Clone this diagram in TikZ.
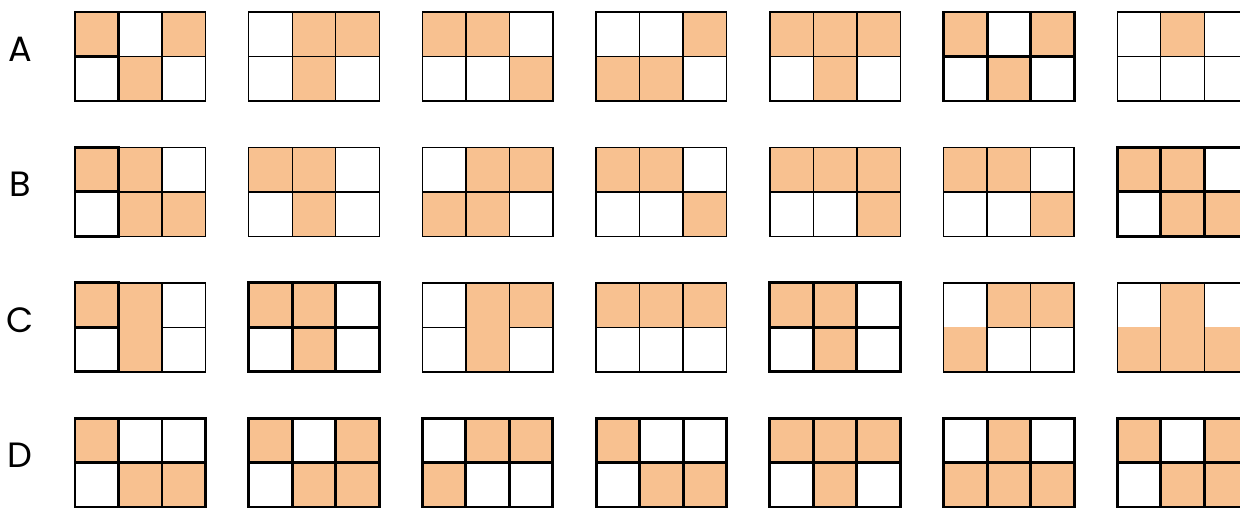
\documentclass[tikz,border=0pt]{standalone}
\usepackage{fontspec}
\setmainfont{Poppins}
\definecolor{tileOrange}{RGB}{248, 193, 144}

\begin{document}
\begin{tikzpicture}[
  x=0.02cm, y=-0.02cm,
  rowlabel/.style={font=\fontsize{20}{24}\selectfont, anchor=center, inner sep=0pt},
  tilefill/.style={fill=tileOrange},
  tilethin/.style={draw=black, line width=0.8pt},
  tilethick/.style={draw=black, line width=1.7pt}
]
  \useasboundingbox (0,0) rectangle (1240,507);

  % ── Lettres des rangées ───────────────────────────────────────
  \foreach \L/\Y in {A/49, B/184, C/320, D/455}
    \node[rowlabel] (lab\L) at (20,\Y) {\L};

  % ── Grilles 2 × 3 (colonne / rangée / cases pleines / traits du milieu / trait) ──
  \foreach \gx/\gy/\cells/\mids/\wt in {
      1/1/{1/1,3/1,2/2}/{1,2,3}/tilethin,
      2/1/{2/1,3/1,2/2}/{1,2,3}/tilethin,
      3/1/{1/1,2/1,3/2}/{1,2,3}/tilethin,
      4/1/{3/1,1/2,2/2}/{1,2,3}/tilethin,
      5/1/{1/1,2/1,3/1,2/2}/{1,2,3}/tilethin,
      6/1/{1/1,3/1,2/2}/{1,2,3}/tilethick,
      7/1/{2/1}/{1,2,3}/tilethin,
      1/2/{1/1,2/1,2/2,3/2}/{1,2,3}/tilethin,
      2/2/{1/1,2/1,2/2}/{1,2,3}/tilethin,
      3/2/{2/1,3/1,1/2,2/2}/{1,2,3}/tilethin,
      4/2/{1/1,2/1,3/2}/{1,2,3}/tilethin,
      5/2/{1/1,2/1,3/1,3/2}/{1,2,3}/tilethin,
      6/2/{1/1,2/1,3/2}/{1,2,3}/tilethin,
      7/2/{1/1,2/1,2/2,3/2}/{1,2,3}/tilethick,
      1/3/{1/1,2/1,2/2}/{1,3}/tilethin,
      2/3/{1/1,2/1,2/2}/{1,2,3}/tilethick,
      3/3/{2/1,3/1,2/2}/{1,3}/tilethin,
      4/3/{1/1,2/1,3/1}/{1,2,3}/tilethin,
      5/3/{1/1,2/1,2/2}/{1,2,3}/tilethick,
      6/3/{2/1,3/1,1/2}/{2,3}/tilethin,
      7/3/{2/1,2/2,1/2,3/2}/{0}/tilethin,
      1/4/{1/1,2/2,3/2}/{1,2,3}/tilethick,
      2/4/{1/1,3/1,2/2,3/2}/{1,2,3}/tilethick,
      3/4/{2/1,3/1,1/2}/{1,2,3}/tilethick,
      4/4/{1/1,2/2,3/2}/{1,2,3}/tilethick,
      5/4/{1/1,2/1,3/1,2/2}/{1,2,3}/tilethick,
      6/4/{2/1,1/2,2/2,3/2}/{1,2,3}/tilethick,
      7/4/{1/1,3/1,2/2,3/2}/{1,2,3}/tilethick} {
    \begin{scope}[shift={({75+(\gx-1)*173.7},{12+(\gy-1)*135.4})}]
      \foreach \i/\j in \cells
        \fill[tilefill] ({(\i-1)*43.5},{(\j-1)*44.5}) rectangle ++(43.5,44.5);
      \draw[\wt] (0,0) rectangle (130.5,89);
      \draw[\wt] (43.5,0) -- (43.5,89) (87,0) -- (87,89);
      \foreach \m in \mids {
        \ifnum\m>0 \draw[\wt] ({(\m-1)*43.5},44.5) -- ++(43.5,0); \fi
      }
    \end{scope}
  }

  % première colonne en trait fort (A, B, C)
  \foreach \gy in {1,2,3}
    \draw[tilethick] (75,{12+(\gy-1)*135.4}) rectangle ++(43.5,89)
      (75,{56.5+(\gy-1)*135.4}) -- ++(43.5,0);

\end{tikzpicture}
\end{document}
